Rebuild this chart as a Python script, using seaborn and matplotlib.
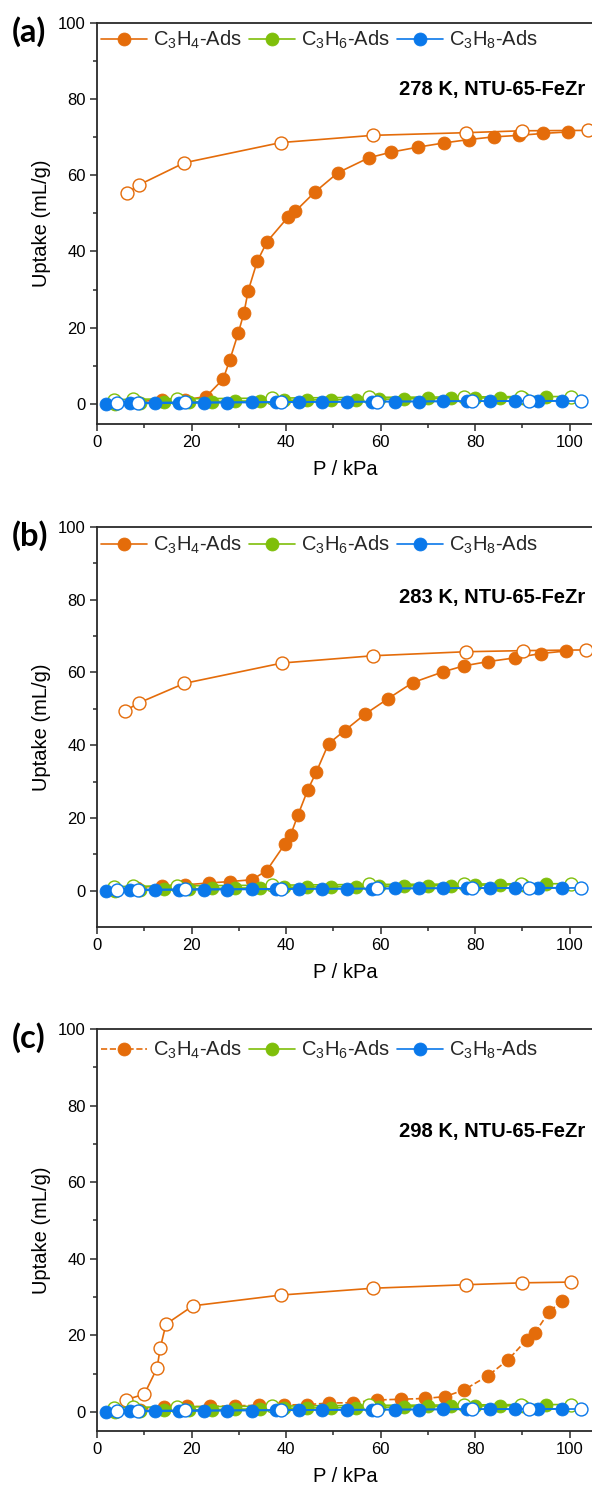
import numpy as np
import pandas as pd
import matplotlib
matplotlib.use("Agg")
import matplotlib.pyplot as plt
from matplotlib.lines import Line2D
import seaborn as sns

sns.set_theme(style="ticks")
plt.rcParams['font.family'] = ['Liberation Sans', 'DejaVu Sans']
plt.rcParams['mathtext.default'] = 'regular'

ORANGE = '#E46C0A'
GREEN = '#7FBF0A'
BLUE = '#0A78EA'

# ---------------- data ----------------
# Panel (a) 278 K
a_c3h4_ads_x = [3.5, 8.5, 13.7, 18.7, 23.1, 26.7, 28.1, 29.9, 31.1, 32.0, 33.9, 36.0, 40.4, 42.0, 46.1, 51.0, 57.5, 62.3, 67.9, 73.4, 78.7, 84.0, 89.4, 94.4, 99.6]
a_c3h4_ads_y = [0.3, 0.6, 1.0, 1.1, 1.9, 6.5, 11.5, 18.6, 23.9, 29.7, 37.4, 42.6, 49.0, 50.6, 55.6, 60.7, 64.6, 66.1, 67.4, 68.5, 69.4, 70.1, 70.5, 71.0, 71.4]
a_c3h4_des_x = [6.3, 8.9, 18.5, 38.9, 58.4, 78.1, 90.0, 103.8]
a_c3h4_des_y = [55.3, 57.5, 63.3, 68.6, 70.5, 71.2, 71.7, 71.8]

# Panel (b) 283 K
b_c3h4_ads_x = [3.5, 8.5, 13.7, 18.7, 23.6, 28.2, 32.8, 35.9, 39.8, 41.0, 42.5, 44.6, 46.4, 49.0, 52.4, 56.8, 61.6, 66.8, 73.3, 77.6, 82.8, 88.4, 93.9, 99.2]
b_c3h4_ads_y = [0.3, 0.8, 1.4, 1.6, 2.1, 2.5, 3.0, 5.5, 12.9, 15.4, 20.7, 27.7, 32.6, 40.4, 44.0, 48.6, 52.8, 57.2, 60.2, 61.8, 63.0, 64.0, 65.2, 65.9]
b_c3h4_des_x = [5.9, 8.8, 18.5, 39.2, 58.5, 78.1, 90.1, 103.5]
b_c3h4_des_y = [49.4, 51.6, 57.0, 62.6, 64.6, 65.7, 66.0, 66.2]

# Panel (c) 298 K
c_c3h4_ads_x = [4.0, 9.0, 14.1, 19.0, 24.0, 29.3, 34.2, 39.6, 44.5, 49.1, 54.2, 59.2, 64.3, 69.5, 73.7, 77.6, 82.7, 87.0, 90.9, 92.6, 95.6, 98.3]
c_c3h4_ads_y = [0.3, 0.6, 1.2, 1.4, 1.4, 1.6, 1.7, 1.8, 1.9, 2.3, 2.4, 3.1, 3.3, 3.5, 4.0, 5.7, 9.4, 13.6, 18.8, 20.5, 26.0, 29.0]
c_c3h4_des_x = [6.2, 10.0, 12.7, 13.4, 14.6, 20.3, 38.9, 58.5, 78.0, 89.9, 100.4]
c_c3h4_des_y = [3.2, 4.6, 11.4, 16.8, 22.9, 27.7, 30.5, 32.3, 33.2, 33.7, 33.9]

# C3H6 / C3H8 (nearly identical for all panels)
c3h6_ads_x = [3.8, 9.1, 14.1, 19.4, 24.4, 29.3, 34.5, 39.6, 44.5, 49.6, 54.8, 59.7, 64.9, 70.0, 75.0, 79.9, 85.2, 90.2, 95.1]
c3h6_ads_y = [0.0, 0.2, 0.4, 0.5, 0.6, 0.7, 0.8, 0.9, 1.0, 1.1, 1.1, 1.2, 1.3, 1.4, 1.4, 1.5, 1.6, 1.6, 1.7]
c3h6_des_x = [3.5, 7.7, 16.9, 37.1, 57.5, 77.6, 89.7, 100.4]
c3h6_des_y = [1.1, 1.2, 1.3, 1.5, 1.7, 1.8, 1.9, 1.9]
c3h8_ads_x = [2.0, 7.0, 12.3, 17.3, 22.6, 27.5, 32.7, 37.8, 42.7, 47.7, 52.9, 58.2, 63.1, 68.1, 73.2, 78.3, 83.2, 88.4, 93.4, 98.4]
c3h8_ads_y = [0.0, 0.1, 0.15, 0.2, 0.25, 0.3, 0.35, 0.4, 0.45, 0.5, 0.5, 0.55, 0.6, 0.6, 0.65, 0.7, 0.7, 0.75, 0.8, 0.8]
c3h8_des_x = [4.2, 8.6, 18.7, 39.0, 59.2, 79.3, 91.4, 102.5]
c3h8_des_y = [0.2, 0.3, 0.4, 0.5, 0.6, 0.7, 0.7, 0.75]

panel_labels = ['(a)', '(b)', '(c)']
temps = ['278 K, NTU-65-FeZr', '283 K, NTU-65-FeZr', '298 K, NTU-65-FeZr']
legend_labels = ['C$_3$H$_4$-Ads', 'C$_3$H$_6$-Ads', 'C$_3$H$_8$-Ads']
x_ticks = [0, 20, 40, 60, 80, 100]
y_ticks = [0, 20, 40, 60, 80, 100]

panels = [
    dict(ads=(a_c3h4_ads_x, a_c3h4_ads_y), des=(a_c3h4_des_x, a_c3h4_des_y), ylim=(-5.3, 100), ls='-'),
    dict(ads=(b_c3h4_ads_x, b_c3h4_ads_y), des=(b_c3h4_des_x, b_c3h4_des_y), ylim=(-10, 100), ls='-'),
    dict(ads=(c_c3h4_ads_x, c_c3h4_ads_y), des=(c_c3h4_des_x, c_c3h4_des_y), ylim=(-5, 100), ls='--'),
]

W, H = 592, 1491
fig = plt.figure(figsize=(W / 100, H / 100), dpi=100)
boxes = [(23, 424), (527, 927), (1029, 1431)]
leg_shift_px = [2, 3, 6]
left_px = 97

MS = 9.3
LW = 1.2

def series(ax, x, y, color, filled, ls='-'):
    df = pd.DataFrame({'x': x, 'y': y})
    kw = dict(marker='o', markersize=MS, linewidth=LW, color=color,
              markeredgecolor=color, markeredgewidth=1.0 if not filled else 0.6)
    if not filled:
        kw['markerfacecolor'] = 'white'
    sns.lineplot(data=df, x='x', y='y', ax=ax, sort=False, estimator=None,
                 linestyle=ls, legend=False, **kw)

for i, p in enumerate(panels):
    top, bot = boxes[i]
    hpx = bot - top
    ax = fig.add_axes([left_px / W, 1 - bot / H, (W - left_px) / W + 0.002, hpx / H])
    series(ax, *p['ads'], ORANGE, True, ls=p['ls'])
    series(ax, *p['des'], ORANGE, False)
    series(ax, c3h6_ads_x, c3h6_ads_y, GREEN, True)
    series(ax, c3h6_des_x, c3h6_des_y, GREEN, False)
    series(ax, c3h8_ads_x, c3h8_ads_y, BLUE, True)
    series(ax, c3h8_des_x, c3h8_des_y, BLUE, False)

    ax.set_xlim(0, 105)
    ax.set_ylim(*p['ylim'])
    ax.set_xticks(x_ticks)
    ax.set_yticks(y_ticks)
    ax.set_xticks(np.arange(10, 105, 20), minor=True)
    ax.set_yticks(np.arange(10, 100, 20), minor=True)
    for s in ['left', 'bottom', 'top']:
        ax.spines[s].set_color('#2a2a2a')
        ax.spines[s].set_linewidth(1.3)
    ax.spines['right'].set_visible(False)
    ax.tick_params(which='major', direction='out', length=5, width=1.1, color='#2a2a2a',
                   labelsize=12, pad=3, labelcolor='black')
    ax.tick_params(which='minor', direction='out', length=3, width=1.1, color='#2a2a2a')
    ax.set_xlabel('P / kPa', fontsize=14.5, labelpad=7, color='black')
    ax.set_ylabel('Uptake (mL/g)', fontsize=14.5, labelpad=5, color='black')

    handles = [Line2D([], [], color=c, marker='o', markersize=MS, linewidth=LW,
                      markeredgecolor=c, markeredgewidth=0.6,
                      linestyle=p['ls'] if j == 0 else '-')
               for j, c in enumerate([ORANGE, GREEN, BLUE])]
    ax.legend(handles, legend_labels, loc='upper left',
              bbox_to_anchor=(0.0, 1.0 - leg_shift_px[i] / hpx),
              ncol=3, frameon=False, fontsize=14.5, handlelength=2.3,
              handletextpad=0.28, columnspacing=0.35, borderaxespad=0.05,
              borderpad=0.15)
    ty = [0.833, 0.8225, 0.744][i]
    ax.text(0.984, ty, temps[i], transform=ax.transAxes, ha='right', va='center',
            fontsize=14.5, fontweight='bold', color='black')
    fig.text(11.5 / W, 1 - (top + 9) / H, panel_labels[i], ha='left', va='center',
             fontsize=23.5, fontweight='bold', family=['Lato', 'DejaVu Sans'], color='black')

fig.savefig('out.png', dpi=100)
